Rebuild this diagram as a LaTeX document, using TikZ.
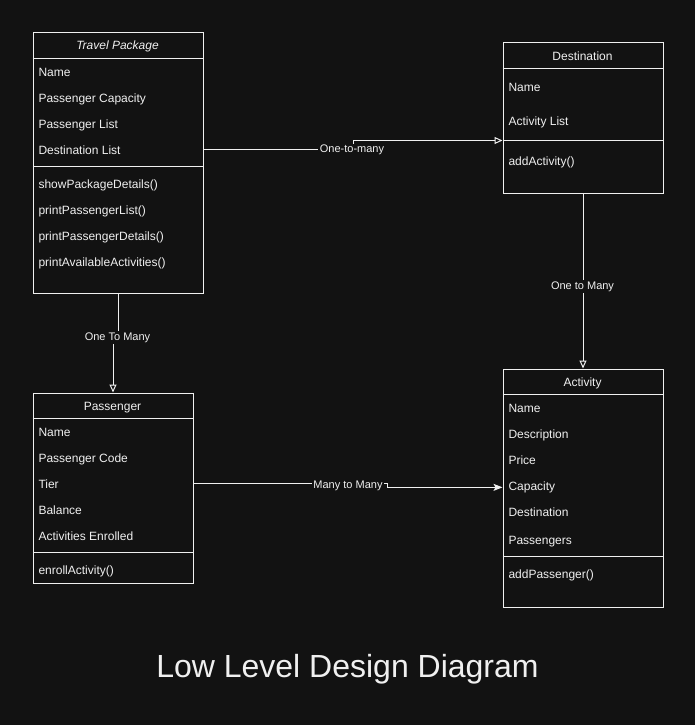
\documentclass[tikz,border=0pt]{standalone}
\usepackage{fontspec}
\setmainfont{Liberation Sans}
\usetikzlibrary{arrows.meta}
\definecolor{canvas}{HTML}{121212}
\definecolor{ink}{HTML}{F0F0F0}
\begin{document}
\begin{tikzpicture}
[x=1pt, y=-1pt, line width=1pt,
 umlbox/.style={draw=ink, fill=canvas, anchor=north west, inner sep=0pt},
 member/.style={anchor=base west, inner sep=0pt, text=ink, font=\fontsize{12}{14}\selectfont},
 header/.style={anchor=base, inner sep=0pt, text=ink, font=\fontsize{12}{14}\selectfont},
 rel/.style={draw=ink, line width=1pt},
 openhead/.style={-{Triangle[open, length=8pt, width=7pt]}},
 fullhead/.style={-{Stealth[length=9pt, width=7pt, inset=2pt]}},
 tag/.style={fill=canvas, text=ink, inner sep=1.5pt, font=\fontsize{11}{13}\selectfont}]
\fill[canvas] (0,0) rectangle (695,725);
% class boxes
\node[umlbox, minimum width=170pt, minimum height=260pt] (travel) at (32.5,32.5) {};
\node[umlbox, minimum width=160pt, minimum height=150pt] (destination) at (502.5,42.5) {};
\node[umlbox, minimum width=160pt, minimum height=190pt] (passenger) at (32.5,392.5) {};
\node[umlbox, minimum width=160pt, minimum height=238pt] (activity) at (502.5,368.5) {};
% compartments
\draw[ink] (32.5,58.5) -- (202.5,58.5);
\draw[ink] (32.5,166) -- (202.5,166);
\draw[ink] (502.5,68.5) -- (662.5,68.5);
\draw[ink] (502.5,140.5) coordinate (ds-sep) -- (662.5,140.5);
\draw[ink] (32.5,418.5) -- (192.5,418.5);
\draw[ink] (32.5,552.5) -- (192.5,552.5);
\draw[ink] (502.5,394.5) -- (662.5,394.5);
\draw[ink] (502.5,556.5) -- (662.5,556.5);
% Travel Package
\node[header, font=\fontsize{12}{14}\selectfont\itshape] (tp-head) at (117.5,50) {Travel Package};
\foreach \txt [count=\i] in {Name, Passenger Capacity, Passenger List, Destination List}
  \node[member] (tp-\i) at (38,50+26*\i) {\txt};
\foreach \txt [count=\i] in {showPackageDetails(), printPassengerList(), printPassengerDetails(), printAvailableActivities()}
  \node[member] (tp-m\i) at (38,162+26*\i) {\txt};
% Destination
\node[header] (ds-head) at (582.5,60) {Destination};
\node[member] (ds-1) at (508,91) {Name};
\node[member] (ds-2) at (508,125) {Activity List};
\node[member] (ds-m1) at (508,165) {addActivity()};
% Passenger
\node[header] (pa-head) at (112.5,410.5) {Passenger};
\foreach \txt [count=\i] in {Name, Passenger Code, Tier, Balance, Activities Enrolled}
  \node[member] (pa-\i) at (38,410+26*\i) {\txt};
\node[member] (pa-m1) at (38,574) {enrollActivity()};
% Activity
\node[header] (ac-head) at (582.5,386) {Activity};
\foreach \txt [count=\i] in {Name, Description, Price, Capacity, Destination}
  \node[member] (ac-\i) at (508,386+26*\i) {\txt};
\node[member] (ac-6) at (508,544) {Passengers};
\node[member] (ac-m1) at (508,578) {addPassenger()};
% relations
\draw[rel, openhead] (travel.east |- tp-4.center) -- ++(149.5,0) |- (ds-sep);
\node[tag] (lbl-dest) at (352,150) {One-to-many};
\draw[rel, openhead] (travel.south) -- ++(0,44) -| (passenger.north);
\node[tag] (lbl-pass) at (117.5,337.5) {One To Many};
\draw[rel, openhead] (destination.south) -- (activity.north);
\node[tag] (lbl-act) at (582.5,286.5) {One to Many};
\draw[rel, fullhead] (passenger.east |- pa-3.center) -- ++(193.5,0) |- (activity.west |- ac-4.mid);
\node[tag] (lbl-many) at (348,485.5) {Many to Many};
% title
\node[anchor=base, inner sep=0pt, text=ink, font=\fontsize{32}{36}\selectfont] (diagram-title) at (347.5,677.3) {Low Level Design Diagram};
\end{tikzpicture}
\end{document}
